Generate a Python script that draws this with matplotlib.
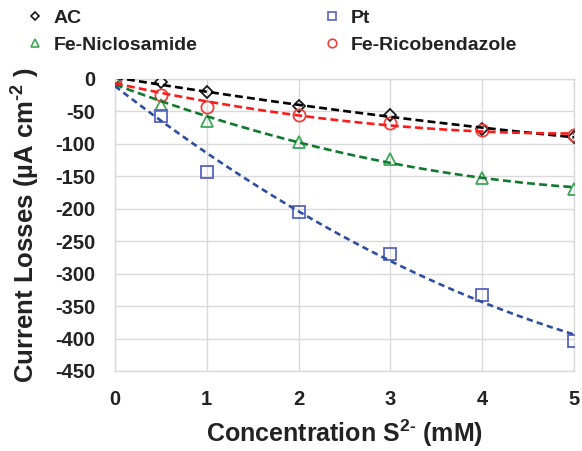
import numpy as np
import matplotlib
matplotlib.use("Agg")
import matplotlib.pyplot as plt
from matplotlib.lines import Line2D

plt.rcParams['font.family'] = ['Liberation Sans', 'DejaVu Sans']
plt.rcParams['font.weight'] = 'bold'
plt.rcParams['axes.unicode_minus'] = False
plt.rcParams['mathtext.fontset'] = 'custom'
plt.rcParams['mathtext.rm'] = 'Liberation Sans:bold'
plt.rcParams['mathtext.bf'] = 'Liberation Sans:bold'
plt.rcParams['mathtext.it'] = 'Liberation Sans:bold'
plt.rcParams['mathtext.default'] = 'bf'

# Data (concentration in mM, current losses in uA cm^-2)
conc = [0, 0.5, 1, 2, 3, 4, 5]
ac = [0, -5, -20, -42, -56, -77, -89]
pt = [0, -57, -143, -205, -270, -333, -403]
fe_nic = [0, -40, -65, -97, -123, -152, -169]
fe_rico = [0, -24, -43, -55, -68, -78, -87]

series = [
    ("AC", ac, 'D', '#1a1a1a', '#000000', (3, 1.6)),
    ("Fe-Niclosamide", fe_nic, '^', '#3ea65a', '#0f7a2e', (3, 1.6)),
    ("Pt", pt, 's', '#5563c1', '#2e4ea3', (2.4, 1.6)),
    ("Fe-Ricobendazole", fe_rico, 'o', '#f0403c', '#ff1a1a', (3, 1.6)),
]
msize = {'D': 6.5, '^': 8.8, 's': 8.8, 'o': 8.8}

fig = plt.figure(figsize=(5.82, 4.51), dpi=100)
ax = fig.add_axes([115/582, 1-371/451, 459/582, 292/451])

x = np.array(conc, dtype=float)
xs = np.linspace(0, 5, 200)
for name, vals, mk, mcol, lcol, dash in series:
    y = np.array(vals, dtype=float)
    coef = np.polyfit(x, y, 2)
    ax.plot(x, y, linestyle='none', marker=mk, markersize=msize[mk],
            markerfacecolor='none', markeredgecolor=mcol, markeredgewidth=1.3,
            zorder=3, label=name)
    ax.plot(xs, np.polyval(coef, xs), color=lcol, lw=1.9, dashes=dash, zorder=4)

ax.set_xlim(0, 5)
ax.set_ylim(-450, 0)
ax.set_xticks(np.arange(0, 6, 1))
ax.set_yticks(np.arange(-450, 1, 50))
ax.grid(True, color='#d9d9d9', lw=1)
ax.set_axisbelow(True)
for s in ax.spines.values():
    s.set_color('#d9d9d9')
    s.set_linewidth(1)
ax.tick_params(length=0, labelsize=14.5, pad=14, colors='#222222')
for lab in ax.get_xticklabels() + ax.get_yticklabels():
    lab.set_fontweight('bold')

ax.set_xlabel(r'Concentration S$^{2\text{-}}$ (mM)', fontsize=18, fontweight='bold', color='#222222')
ax.set_ylabel(r'Current Losses (µA cm$^{\text{-}2}$ )', fontsize=18.5, fontweight='bold', color='#222222')
ax.xaxis.set_label_coords(0.5, -0.16)
ax.yaxis.set_label_coords(-0.158, 0.5)

leg_handles = []
for name, vals, mk, mcol, lcol, dash in series:
    leg_handles.append(Line2D([], [], linestyle='none', marker=mk,
                              markersize=msize[mk]*0.7, markerfacecolor='none',
                              markeredgecolor=mcol, markeredgewidth=1.2, label=name))
leg = fig.legend(handles=leg_handles, loc='upper left', ncol=2,
                 bbox_to_anchor=(25/582, 1 - 9/451), frameon=False,
                 prop={'family': 'Liberation Sans', 'weight': 'bold', 'size': 14},
                 handlelength=1.0, handletextpad=0.48, columnspacing=6.4,
                 labelspacing=0.5, borderpad=0, borderaxespad=0)
for t in leg.get_texts():
    t.set_color('#222222')

fig.savefig('out.png', dpi=100)
